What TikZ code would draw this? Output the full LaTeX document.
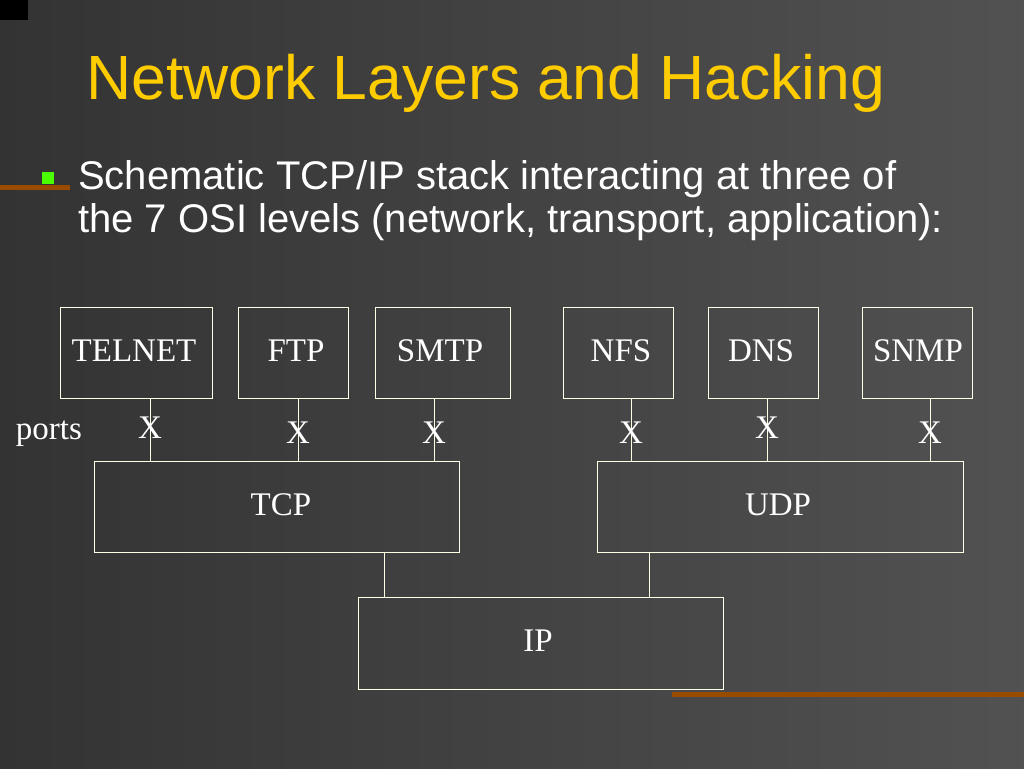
\documentclass[tikz,border=0pt]{standalone}
\usepackage{fontspec}
\setmainfont{Liberation Serif}
\newfontfamily\arialf{Liberation Sans}
\begin{document}
\begin{tikzpicture}[x=1pt,y=-1pt,
 bx/.style={draw=white!90!yellow,line width=1pt},
 lbl/.style={text=white,font=\fontsize{33}{35}\selectfont,inner sep=0pt},
 ln/.style={draw=white!90!yellow,line width=1pt}]
\shade[left color=black!80,right color=black!68] (0,0) rectangle (1024,768);
\useasboundingbox (0,0) rectangle (1024,768);
\fill[black] (0,0) rectangle (28,20);
\fill[orange!60!black] (0,185) rectangle (70,190);
\fill[orange!60!black] (672,692) rectangle (1024,697);
\node[anchor=west,text={rgb,255:red,255;green,204;blue,0},font=\arialf\fontsize{62.5}{66}\selectfont,inner sep=0pt] (title) at (86,83) {Network Layers and Hacking};
\fill[green!70!yellow] (42,172) rectangle (54,184);
\node[anchor=north west,align=left,text=white,font=\arialf\fontsize{40}{43}\selectfont,inner sep=0pt] (bullet) at (78,160) {Schematic TCP/IP stack interacting at three of\\the 7 OSI levels (network, transport, application):};
\foreach \n/\a/\b/\c/\t in {telnet/60/212/134/TELNET,ftp/238/348/296/FTP,smtp/375/510/440/SMTP,nfs/563/673/621/NFS,dns/708/818/761/DNS,snmp/862/972/918/SNMP}{
 \draw[bx] (\a,307) rectangle (\b,398);
 \node[lbl] (\n) at (\c,351) {\t};}
\draw[bx] (94,461) rectangle (459,552); \node[lbl] (tcp) at (281,505) {TCP};
\draw[bx] (597,461) rectangle (963,552); \node[lbl] (udp) at (778,505) {UDP};
\draw[bx] (358,597) rectangle (723,689); \node[lbl] (ip) at (538,641) {IP};
\foreach \n/\x/\y in {a/150/428,b/298/433,c/434/433,d/631/433,e/767/428,f/930/433}{
 \draw[ln] (\x,398) -- (\x,461);
 \node[lbl] (x\n) at (\x,\y) {X};}
\draw[ln] (384,552) -- (384,597);
\draw[ln] (649,552) -- (649,597);
\node[lbl] (ports) at (49,434) {ports};
\end{tikzpicture}
\end{document}
